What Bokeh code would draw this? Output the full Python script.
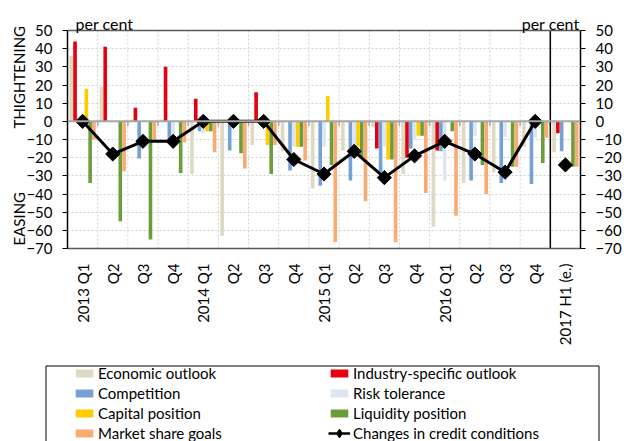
import math
from bokeh.plotting import figure
from bokeh.models import (ColumnDataSource, Range1d, LinearAxis, FixedTicker, Span, Label,
                          Legend, LegendItem, BoxAnnotation)
from bokeh.transform import dodge
from bokeh.embed import file_html
from bokeh.resources import INLINE

categories = ["2013 Q1", "Q2", "Q3", "Q4", "2014 Q1", "Q2", "Q3", "Q4",
              "2015 Q1", "Q2", "Q3", "Q4", "2016 Q1", "Q2", "Q3", "Q4", "2017 H1 (e.)"]

economic = [36, 19, 1, 1, -29, -63, -13, -16.5, -37, -16, -3, -29, -58, -34, -28, -14, -17]
industry = [44, 41, 7.5, 30, 12.5, 0, 16, 0, 0, 0, -15, -20, -16, 0, 0, 0, -6.5]
competition = [0, 0, -20.5, -10.5, -5.5, -16, 0, -27, -35.5, -32.5, -29, -15, -16.5, -32.5, -34, -34.5, -16.5]
risk = [0, 0, 0, -10.5, -6.5, 0, 0, -14, -14, -14, -14, -10, -32.5, -8, -8.5, -9, 0]
capital = [18, 0, 0, 0, -5.5, 0, -13, -14, 14, -14, -21, -8, 0, 0, 0, 0, 0]
liquidity = [-34, -55, -65, -28.5, -5.5, -17.5, -29, -14, -24, -20.5, -21, -8, -5.5, -24, -25, -23, -25]
market = [-10, -27.5, -10.5, -11.5, -17, -26, -13, -21.5, -66.5, -44, -66.5, -39.5, -52, -40, -25, -9, -25]
credit = [0, -18, -11, -11, 0, 0, 0, -21, -29, -16.5, -31, -19, -11, -18, -28, 0, -24]

series_names = ["Economic outlook", "Industry-specific outlook", "Competition", "Risk tolerance",
                "Capital position", "Liquidity position", "Market share goals"]
series_values = [economic, industry, competition, risk, capital, liquidity, market]
series_colors = ["#DDD9C3", "#E3000F", "#75A1D5", "#DCE6F2", "#FFCC00", "#6B9E3A", "#F9AB72"]
line_name = "Changes in credit conditions"
y_ticks = list(range(-70, 51, 10))

FONT = "Lato"
YMIN, YMAX = -70, 50
PX_PER_UNIT = 218 / 120.0
Y_TOP = YMAX + 30 / PX_PER_UNIT   # room above the plot box for the "per cent" labels

n = len(categories)
xs = [i + 0.5 for i in range(n)]
n_line = n - 1   # the estimate is not joined to the line

data = {"x": xs, "credit": credit}
for k, vals in enumerate(series_values):
    data[f"s{k}"] = vals
src = ColumnDataSource(data)
line_src = ColumnDataSource({"x": xs[:n_line], "credit": credit[:n_line]})
bounds = list(range(1, n))
grid_src = ColumnDataSource({"x": bounds[:-1]})
tick_src = ColumnDataSource({"x": bounds})
sep_src = ColumnDataSource({"x": [bounds[-1]]})

p = figure(width=624, height=360, output_backend="svg", toolbar_location=None,
           x_range=Range1d(0, n), y_range=Range1d(YMIN, Y_TOP),
           min_border_left=67, min_border_right=41, min_border_top=0, min_border_bottom=112)
p.outline_line_color = None
p.background_fill_color = "white"

# horizontal grid
p.ygrid.ticker = FixedTicker(ticks=y_ticks)
p.ygrid.grid_line_color = "#D0D0D0"
p.ygrid.grid_line_dash = "2 2"
# vertical grid at category boundaries
p.xgrid.grid_line_color = None
p.segment(x0="x", x1="x", y0=YMIN, y1=YMAX, source=grid_src,
          line_color="#D0D0D0", line_dash="2 2", line_width=1)

# axes
left = p.yaxis[0]
left.ticker = FixedTicker(ticks=y_ticks)
right = LinearAxis(ticker=FixedTicker(ticks=y_ticks))
p.add_layout(right, "right")
for ax in [left, right]:
    ax.bounds = (YMIN, YMAX)
    ax.axis_line_color = "black"
    ax.axis_line_width = 1.5
    ax.major_tick_line_color = "black"
    ax.major_tick_out = 5
    ax.major_tick_in = 0
    ax.minor_tick_line_color = None
    ax.major_label_text_font = FONT
    ax.major_label_text_font_size = "15px"
    ax.major_label_text_color = "black"
    ax.major_label_standoff = 10
left.axis_label = "EASING" + "\u2003" * 5 + "\u00a0\u00a0" + "THIGHTENING" + "\u2003" * 2
left.axis_label_text_font = FONT
left.axis_label_text_font_size = "15px"
left.axis_label_text_font_style = "normal"
left.axis_label_text_color = "black"
left.axis_label_standoff = -5

xa = p.xaxis[0]
xa.ticker = FixedTicker(ticks=xs)
xa.major_label_overrides = {x: c for x, c in zip(xs, categories)}
xa.major_label_orientation = math.pi / 2
xa.major_tick_line_color = None
xa.minor_tick_line_color = None
xa.axis_line_color = "#595959"
xa.axis_line_width = 1.5
xa.major_label_text_font = FONT
xa.major_label_text_font_size = "15px"
xa.major_label_text_color = "black"
xa.major_label_standoff = 9

# top border of the plot box
p.add_layout(Span(location=YMAX, dimension="width", line_color="#595959", line_width=1.5))

# bars
bar_renderers = []
for k, col in enumerate(series_colors):
    r = p.vbar(x=dodge("x", (k - 3) * 0.125, range=p.x_range), top=f"s{k}", bottom=0,
               width=0.12, source=src, fill_color=col, line_color=None)
    bar_renderers.append(r)

# zero line with small category ticks
p.add_layout(Span(location=0, dimension="width", line_color="#A6A6A6", line_width=2))
p.segment(x0="x", x1="x", y0=0, y1=-2.5, source=tick_src, line_color="#A6A6A6", line_width=1.5)
# separator before the estimate
p.segment(x0="x", x1="x", y0=YMIN, y1=YMAX, source=sep_src, line_color="black", line_width=1.5)

p.line(x="x", y="credit", source=line_src, line_color="black", line_width=3)
p.scatter(x="x", y="credit", source=src, marker="square", angle=math.pi / 4,
          size=10, fill_color="black", line_color="black")

for xpos, align in [(8, "left"), (512, "right")]:
    p.add_layout(Label(x=xpos, y=YMAX + 7 / PX_PER_UNIT, x_units="screen", y_units="data",
                       text="per cent", text_align=align, text_baseline="alphabetic",
                       text_font=FONT, text_font_size="16px", text_color="black"))

# legend panel (separate root below the chart)
lg = figure(width=624, height=81, output_backend="svg", toolbar_location=None,
            x_range=Range1d(0, 624), y_range=Range1d(0, 81),
            x_axis_type=None, y_axis_type=None, min_border=0,
            min_border_left=0, min_border_right=0, min_border_top=0, min_border_bottom=0)
lg.outline_line_color = None
lg.xgrid.visible = False
lg.ygrid.visible = False
lg_bars = []
for k, col in enumerate(series_colors):
    lg_bars.append(lg.vbar(x="x", top=f"s{k}", bottom=0, width=0.1, source=src,
                           fill_color=col, line_color=None, visible=False))
lg_line = lg.line(x="x", y="credit", source=line_src, line_color="black", line_width=2.5, visible=False)
lg_mark = lg.scatter(x="x", y="credit", source=src, marker="diamond",
                     fill_color="black", line_color="black", visible=False)

common = dict(border_line_color=None, background_fill_alpha=0, padding=0, margin=0,
              spacing=2, glyph_width=22, label_standoff=3, label_height=14,
              label_text_font=FONT, label_text_font_size="15px", label_text_color="black",
              inactive_fill_alpha=0)
legA = Legend(items=[LegendItem(label=series_names[k], renderers=[lg_bars[k]]) for k in [0, 2, 4, 6]],
              location=(73, -1), glyph_height=10, **common)
legB = Legend(items=[LegendItem(label=series_names[k], renderers=[lg_bars[k]]) for k in [1, 3, 5]],
              location=(328, 19), glyph_height=10, **common)
legC = Legend(items=[LegendItem(label=line_name, renderers=[lg_line, lg_mark])],
              location=(328, -4), glyph_height=24, **common)
for leg in [legA, legB, legC]:
    lg.add_layout(leg, "center")
lg.add_layout(BoxAnnotation(left=45.5, right=598.5, top=75.5, bottom=-10,
                            fill_alpha=0, line_color="black", line_width=1, line_alpha=1))

open("out.html", "w").write(file_html([p, lg], INLINE))
